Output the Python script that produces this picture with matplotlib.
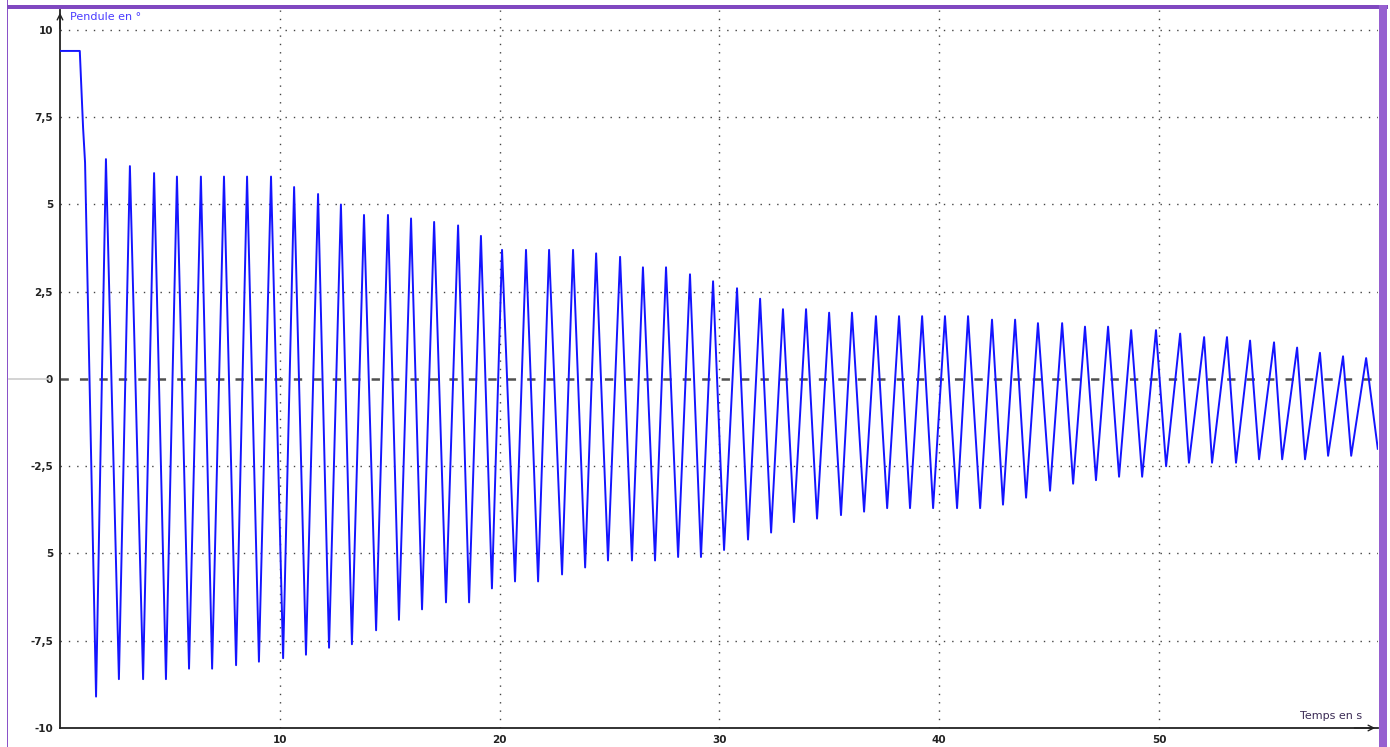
import matplotlib.pyplot as plt
import numpy as np
from matplotlib.patches import Rectangle
from matplotlib.lines import Line2D

plt.rcParams['lines.scale_dashes'] = False

# start of the record: pendulum held, then released
start_t = [0.0, 0.9, 1.05]
start_deg = [9.4, 9.4, 7.2]

# maxima of each swing (time in s, angle in degrees)
peak_t = [1.14, 2.09, 3.18, 4.28, 5.32, 6.41, 7.46, 8.51, 9.60, 10.65,
          11.74, 12.78, 13.83, 14.92, 15.97, 17.02, 18.11, 19.15, 20.11, 21.20,
          22.25, 23.34, 24.39, 25.48, 26.52, 27.57, 28.66, 29.71, 30.80, 31.85,
          32.89, 33.94, 34.99, 36.03, 37.12, 38.17, 39.22, 40.26, 41.31, 42.40,
          43.45, 44.49, 45.59, 46.63, 47.68, 48.73, 49.86, 50.96, 52.05, 53.09,
          54.14, 55.23, 56.28, 57.32, 58.37, 59.42]
peak_deg = [6.2, 6.3, 6.1, 5.9, 5.8, 5.8, 5.8, 5.8, 5.8, 5.5,
            5.3, 5.0, 4.7, 4.7, 4.6, 4.5, 4.4, 4.1, 3.7, 3.7,
            3.7, 3.7, 3.6, 3.5, 3.2, 3.2, 3.0, 2.8, 2.6, 2.3,
            2.0, 2.0, 1.9, 1.9, 1.8, 1.8, 1.8, 1.8, 1.8, 1.7,
            1.7, 1.6, 1.6, 1.5, 1.5, 1.4, 1.4, 1.3, 1.2, 1.2,
            1.1, 1.05, 0.9, 0.75, 0.65, 0.6]

# minima of each swing
trough_t = [1.64, 2.68, 3.78, 4.82, 5.87, 6.92, 8.01, 9.05, 10.15, 11.19,
            12.24, 13.28, 14.38, 15.42, 16.47, 17.56, 18.61, 19.65, 20.70, 21.75,
            22.84, 23.89, 24.93, 26.02, 27.07, 28.12, 29.16, 30.21, 31.30, 32.35,
            33.39, 34.44, 35.53, 36.58, 37.63, 38.67, 39.72, 40.81, 41.86, 42.90,
            43.95, 45.04, 46.09, 47.13, 48.18, 49.23, 50.32, 51.36, 52.41, 53.50,
            54.55, 55.60, 56.64, 57.69, 58.74]
trough_deg = [-9.1, -8.6, -8.6, -8.6, -8.3, -8.3, -8.2, -8.1, -8.0, -7.9,
              -7.7, -7.6, -7.2, -6.9, -6.6, -6.4, -6.4, -6.0, -5.8, -5.8,
              -5.6, -5.4, -5.2, -5.2, -5.2, -5.1, -5.1, -4.9, -4.6, -4.4,
              -4.1, -4.0, -3.9, -3.8, -3.7, -3.7, -3.7, -3.7, -3.7, -3.6,
              -3.4, -3.2, -3.0, -2.9, -2.8, -2.8, -2.5, -2.4, -2.4, -2.4,
              -2.3, -2.3, -2.3, -2.2, -2.2]

end_t = [59.95]
end_deg = [-2.0]

y_ticks = [10, 7.5, 5, 2.5, 0, -2.5, -5, -7.5, -10]
y_tick_labels = ['10', '7,5', '5', '2,5', '0', '-2,5', '5', '-7,5', '-10']
x_ticks = [10, 20, 30, 40, 50]

# merge swings into one trace
n = len(trough_t)
swing_t = np.empty(2 * n + 1)
swing_deg = np.empty(2 * n + 1)
swing_t[0::2] = peak_t
swing_t[1::2] = trough_t
swing_deg[0::2] = peak_deg
swing_deg[1::2] = trough_deg
t = np.concatenate([start_t, swing_t, end_t])
deg = np.concatenate([start_deg, swing_deg, end_deg])

W, H = 1390, 747
fig = plt.figure(figsize=(W / 100, H / 100), dpi=100)
fig.patch.set_facecolor('white')

ax = fig.add_axes([60 / W, (H - 728) / H, 1318 / W, 718 / H])
ax.set_xlim(0, 59.96)
ax.set_ylim(-10, 10.573)

# grid
for y in [10, 7.5, 5, 2.5, -2.5, -5, -7.5]:
    ax.axhline(y, color='#444444', lw=1.0, linestyle=(0, (1.0, 5.0)), zorder=1)
for x in x_ticks:
    ax.axvline(x, color='#444444', lw=1.0, linestyle=(0, (1.0, 5.0)), zorder=1)
ax.axhline(0, color='#505050', lw=1.8, linestyle=(0, (6, 8)), zorder=1)

ax.plot(t, deg, color='#1414ff', lw=1.4, zorder=3)

for s in ['top', 'right']:
    ax.spines[s].set_visible(False)
ax.spines['left'].set_color('#222222')
ax.spines['bottom'].set_color('#222222')
ax.spines['left'].set_linewidth(1.3)
ax.spines['bottom'].set_linewidth(1.3)

ax.set_yticks(y_ticks)
ax.set_yticklabels(y_tick_labels)
ax.set_xticks(x_ticks)
ax.set_xticklabels([str(v) for v in x_ticks])
ax.tick_params(length=0, labelsize=7.5, colors='#222222', pad=5)
for lab in ax.get_xticklabels() + ax.get_yticklabels():
    lab.set_fontweight('bold')

# gray zero mark left of axis
ax.add_line(Line2D([-0.039, -0.0076], [0, 0], transform=ax.get_yaxis_transform(),
                   color='#cccccc', lw=1.2, clip_on=False))

# axis arrows
ax.annotate('', xy=(0, 1.0), xytext=(0, 0.97), xycoords='axes fraction',
            arrowprops=dict(arrowstyle='->', color='#222222', lw=1.0))
ax.annotate('', xy=(1.0, 0), xytext=(0.98, 0), xycoords='axes fraction',
            arrowprops=dict(arrowstyle='->', color='#222222', lw=1.0))

fig.text(70 / W, 1 - 17 / H, 'Pendule en °', fontsize=8, color='#4a3cff',
         va='center', ha='left')
fig.text(1362 / W, 1 - 716 / H, 'Temps en s', fontsize=8, color='#3b2b55',
         va='center', ha='right')

# purple window border
fig.add_artist(Rectangle((7 / W, 0), 1.5 / W, 1, transform=fig.transFigure,
                         color='#8a52c8', lw=0))
fig.add_artist(Rectangle((7 / W, 1 - 9 / H), (1388 - 7) / W, 4 / H,
                         transform=fig.transFigure, color='#8048c0', lw=0))
fig.add_artist(Rectangle((1379 / W, 0), 8 / W, 1 - 5 / H, transform=fig.transFigure,
                         color='#9660d0', lw=0))

fig.savefig('out.png', dpi=100)
